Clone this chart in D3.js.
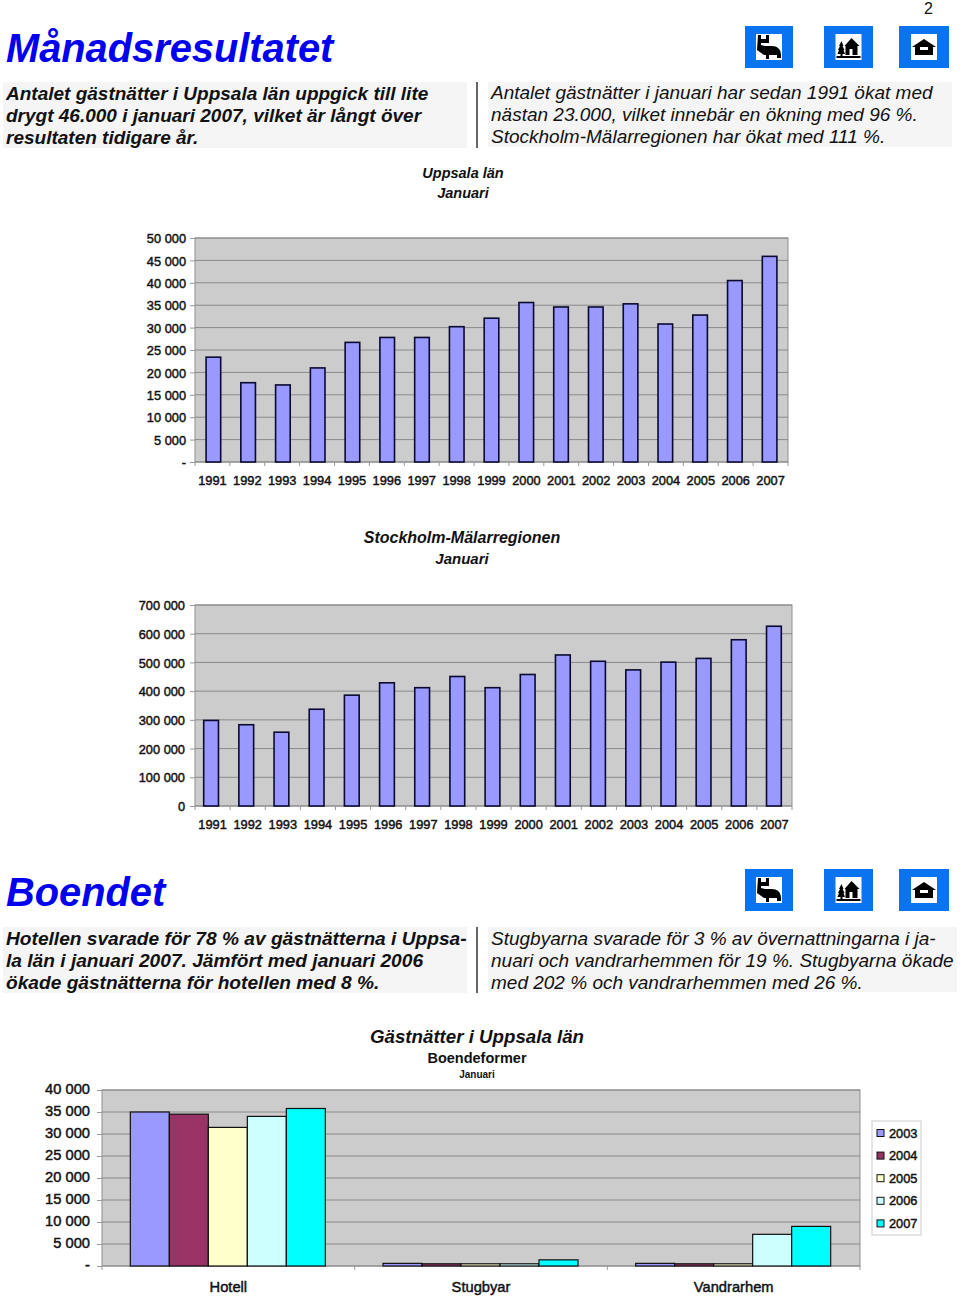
<!DOCTYPE html>
<html><head><meta charset="utf-8">
<script src="https://cdnjs.cloudflare.com/ajax/libs/d3/7.8.5/d3.min.js"></script>
<style>
html,body{margin:0;padding:0;background:#fff}
svg{display:block}
text{font-family:"Liberation Sans",Arial,sans-serif;fill:#111}
.ax path{display:none}
.ax line{stroke:#999}
.ax text{font-family:"Liberation Sans",sans-serif;fill:#111;font-weight:400;stroke:#111;stroke-width:0.45px}
</style></head><body><svg id="c" width="960" height="1298"></svg>
<script>
const years=["1991","1992","1993","1994","1995","1996","1997","1998","1999","2000","2001","2002","2003","2004","2005","2006","2007"];
const uppsala=[23400,17700,17200,21000,26700,27800,27800,30200,32100,35600,34600,34600,35300,30800,32800,40500,45900];
const stockholm=[298000,283000,257000,337000,386000,429000,412000,451000,412000,458000,526000,504000,474000,501000,514000,579000,626000];
const forms=["Hotell","Stugbyar","Vandrarhem"];
const formYears=["2003","2004","2005","2006","2007"];
const v2003=[35000,600,600];
const v2004=[34500,500,500];
const v2005=[31500,500,500];
const v2006=[34000,500,7200];
const v2007=[35800,1400,9000];
const formColors=["#9999ff","#993366","#ffffcc","#ccffff","#00ffff"];
const headLeft1=["Antalet gästnätter i Uppsala län uppgick till lite","drygt 46.000 i januari 2007, vilket är långt över","resultaten tidigare år."];
const headRight1=["Antalet gästnätter i januari har sedan 1991 ökat med","nästan 23.000, vilket innebär en ökning med 96 %.","Stockholm-Mälarregionen har ökat med 111 %."];
const headLeft2=["Hotellen svarade för 78 % av gästnätterna i Uppsa-","la län i januari 2007. Jämfört med januari 2006","ökade gästnätterna för hotellen med 8 %."];
const headRight2=["Stugbyarna svarade för 3 % av övernattningarna i ja-","nuari och vandrarhemmen för 19 %. Stugbyarna ökade","med 202 % och vandrarhemmen med 26 %."];

const svg=d3.select("#c");
const spaced=d3.formatLocale({thousands:" ",grouping:[3],decimal:",",currency:["",""]}).format(",");
function txt(x,y,s,size,o={}){
  return svg.append("text").attr("x",x).attr("y",y).text(s).attr("font-size",size)
   .attr("font-weight",o.w||400).attr("font-style",o.i?"italic":"normal")
   .attr("text-anchor",o.a||"start").style("fill",o.c||"#111");
}
function block(x0,x1,y0,y1,lines,bold,lx,ly,fs){
  svg.append("rect").attr("x",x0).attr("y",y0).attr("width",x1-x0).attr("height",y1-y0).attr("fill","#f5f5f5");
  lines.forEach((l,i)=>txt(lx,ly+i*22,l,fs,{w:bold?700:400,i:true}));
}
function plotBg(x0,x1,y0,y1){
  svg.append("rect").attr("x",x0).attr("y",y0).attr("width",x1-x0).attr("height",y1-y0).attr("fill","#cccccc").attr("stroke","#8f8f8f").attr("stroke-width",1);
}
function axes(x,y,x0,x1,y0,y1,ticks,zero,fs,tickY,labPad,dyShift){
  plotBg(x0,x1,y0,y1);
  const g=svg.append("g");
  g.selectAll("line").data(ticks).join("line").attr("x1",x0).attr("x2",x1).attr("y1",d=>y(d)).attr("y2",d=>y(d)).attr("stroke","#8a8a8a");
  const ay=svg.append("g").attr("class","ax").attr("transform",`translate(${x0},0)`)
    .call(d3.axisLeft(y).tickValues(ticks).tickSize(5).tickPadding(labPad).tickFormat(d=>d===0?zero:spaced(d)));
  ay.selectAll("text").attr("font-size",fs).attr("dy",(0.36*fs+dyShift)+"px");
  const ax=svg.append("g").attr("class","ax").attr("transform",`translate(0,${y1})`)
    .call(d3.axisBottom(x).tickSize(0).tickPadding(tickY));
  ax.selectAll("text").attr("font-size",fs);
  ax.selectAll(".tick line").remove();
  const edges=x.domain().map(d=>x(d)-x.step()*x.padding()).concat([x1]);
  svg.append("g").selectAll("line").data(edges).join("line").attr("x1",d=>d).attr("x2",d=>d).attr("y1",y1).attr("y2",y1+4).attr("stroke","#999");
}
function barChart(vals,x0,x1,y0,y1,max,step,zero,fs,tickY,labPad,bar0,bar1){
  const x=d3.scaleBand().domain(years).range([x0,x1]).paddingInner(0).paddingOuter(0);
  const xb=d3.scaleBand().domain(years).range([bar0,bar1]).paddingInner(0.58).paddingOuter(0.29);
  const y=d3.scaleLinear().domain([0,max]).range([y1,y0]);
  axes(x,y,x0,x1,y0,y1,d3.range(0,max+1,step),zero,fs,tickY,labPad,0);
  svg.append("g").selectAll("rect").data(vals).join("rect")
    .attr("x",(d,i)=>xb(years[i])).attr("width",xb.bandwidth())
    .attr("y",d=>y(d)).attr("height",d=>y1-y(d))
    .attr("fill","#9999ff").attr("stroke","#0a0a30").attr("stroke-width",1.6);
}
function icon(x,y,w,h,kind){
  const g=svg.append("g").attr("transform",`translate(${x},${y})`);
  g.append("rect").attr("width",w).attr("height",h).attr("fill","#0a74f0");
  const cx=w/2,cy=h/2,ww=26;
  g.append("rect").attr("x",cx-ww/2).attr("y",cy-ww/2).attr("width",ww).attr("height",ww).attr("fill","#fff");
  const p=g.append("g").attr("transform",`translate(${cx-ww/2},${cy-ww/2})`).attr("fill","#000");
  if(kind===0){
    p.append("path").attr("d","M2 1h3v4h5v-4h3v8h-8v2l4 1h7c5 0 9 3 9 9v3h-4v-3h-8v4h-3v-4h-2l-7-5z");
  }else if(kind===1){
    p.append("path").attr("d","M9 12l7-8 8 8h-2v9h-5v-6h-3v6h-4v-9zM6 7l2 5h-1l2 4h-1l1.500 4h-2.500v2h-2v-2h-3l1.500-4h-1l2-4h-1zM1 22h24v2h-24z");
  }else{
    p.append("path").attr("d","M13 5l12 8h-3v8h-18v-8h-3zM9 13v3h8v-3z").attr("fill-rule","evenodd");
  }
}
// Page head
txt(933,14,"2",16,{a:"end"});
txt(6,62,"Månadsresultatet",39.8,{w:700,i:true,c:"#0000ee"});
[[745,26,48,42,0],[824,26,49,42,1],[899,26,50,42,2]].forEach(a=>icon(...a));
block(3,467,82,148,headLeft1,true,6,100,19);
svg.append("line").attr("x1",477).attr("x2",477).attr("y1",82).attr("y2",148).attr("stroke","#333").attr("stroke-width",1.5);
block(488,952,82,147,headRight1,false,491,99,19);
// Chart 1
txt(463,178,"Uppsala län",14.5,{w:700,i:true,a:"middle"});
txt(463,198,"Januari",14.5,{w:700,i:true,a:"middle"});
barChart(uppsala,195,788,238,462,50000,5000,"-",12.8,14,4,196,787);
// Chart 2
txt(462,543,"Stockholm-Mälarregionen",16,{w:700,i:true,a:"middle"});
txt(462,564,"Januari",15,{w:700,i:true,a:"middle"});
barChart(stockholm,195,792,605,806,700000,100000,"0",12.8,14,5,193.500,791.500);
// Section 2
txt(6,906,"Boendet",39.8,{w:700,i:true,c:"#0000ee"});
[[745,869,48,42,0],[824,869,49,42,1],[899,869,50,42,2]].forEach(a=>icon(...a));
block(3,467,927,993,headLeft2,true,6,945,19.15);
svg.append("line").attr("x1",477).attr("x2",477).attr("y1",927).attr("y2",993).attr("stroke","#333").attr("stroke-width",1.5);
block(488,957,927,992,headRight2,false,491,945,19);
// Chart 3
txt(477,1043,"Gästnätter i Uppsala län",18.7,{w:700,i:true,a:"middle"});
txt(477,1063,"Boendeformer",14.5,{w:700,a:"middle"});
txt(477,1078,"Januari",10,{w:700,a:"middle"});
const x3=d3.scaleBand().domain(forms).range([102,860]);
const inner=d3.scaleBand().domain(formYears).range([0,195]);
const y3=d3.scaleLinear().domain([0,40000]).range([1266,1090]);
axes(x3,y3,102,860,1090,1266,d3.range(0,40001,5000),"-",14.7,16,7,-1.5);
[v2003,v2004,v2005,v2006,v2007].forEach((s,k)=>{
  svg.append("g").selectAll("rect").data(s).join("rect")
   .attr("x",(d,i)=>x3(forms[i])+x3.bandwidth()/2-98+inner(formYears[k])).attr("width",inner.bandwidth())
   .attr("y",d=>y3(d)).attr("height",d=>1266-y3(d))
   .attr("fill",formColors[k]).attr("stroke","#101010").attr("stroke-width",1.2);
});
// Legend
svg.append("rect").attr("x",872).attr("y",1121).attr("width",49).attr("height",114).attr("fill","#fff").attr("stroke","#ddd").attr("stroke-width",1.5);
formYears.forEach((d,i)=>{
  const yy=1133+i*22.6;
  svg.append("rect").attr("x",877).attr("y",yy-3.5).attr("width",7).attr("height",7).attr("fill",formColors[i]).attr("stroke","#111").attr("stroke-width",1);
  txt(889,yy+4.5,d,12.8).style("stroke","#111").style("stroke-width","0.45px");
});
</script></body></html>
